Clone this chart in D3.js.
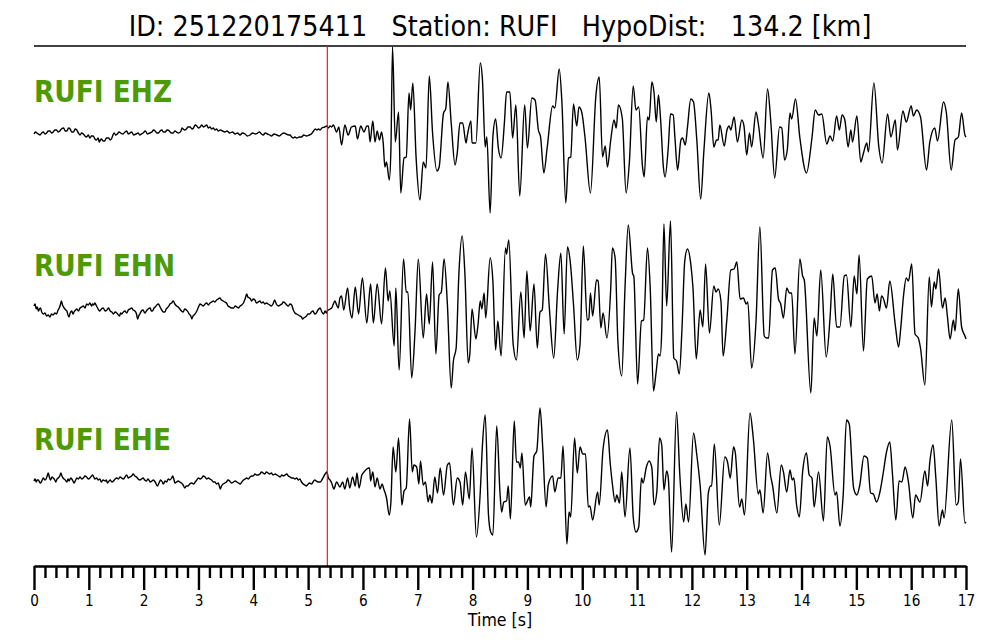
<!DOCTYPE html>
<html>
<head>
<meta charset="utf-8">
<script src="https://cdn.jsdelivr.net/npm/d3@7"></script>
<style>
  body { margin: 0; background: #fff; }
  text { font-family: "DejaVu Sans", sans-serif; white-space: pre; }
</style>
</head>
<body>
<div id="chart"></div>
<script>
// station / event info
var eventId = "251220175411";
var station = "RUFI";
var hypoDist = "134.2";
var channels = ["RUFI EHZ", "RUFI EHN", "RUFI EHE"];
var pickTime = 5.35;
var timeTicks = [0, 1, 2, 3, 4, 5, 6, 7, 8, 9, 10, 11, 12, 13, 14, 15, 16, 17];

// traces: [time s, amplitude]
var ehz = [[0.00,-1],[0.03,1],[0.05,0],[0.08,-1],[0.11,-2],[0.14,0],[0.17,1],[0.20,-1],[0.23,0],[0.26,2],[0.29,2],[0.32,0],[0.35,1],[0.38,3],[0.41,3],[0.44,1],[0.47,2],[0.50,4],[0.54,5],[0.57,2],[0.60,2],[0.63,5],[0.66,4],[0.69,1],[0.72,1],[0.75,4],[0.78,3],[0.81,0],[0.84,-2],[0.87,0],[0.90,-1],[0.93,-3],[0.96,-4],[0.99,-2],[1.02,-5],[1.05,-3],[1.08,-3],[1.11,-6],[1.14,-7],[1.17,-5],[1.19,-9],[1.21,-7],[1.23,-6],[1.26,-8],[1.29,-8],[1.32,-5],[1.36,-5],[1.39,-7],[1.42,-5],[1.44,-2],[1.46,0],[1.49,-2],[1.52,-1],[1.55,1],[1.58,0],[1.62,-1],[1.66,1],[1.69,2],[1.72,-1],[1.75,0],[1.78,1],[1.82,-2],[1.86,-1],[1.90,0],[1.93,-2],[1.96,-1],[1.99,0],[2.03,2],[2.07,-1],[2.11,0],[2.15,1],[2.18,3],[2.21,2],[2.24,0],[2.27,0],[2.30,2],[2.33,3],[2.36,1],[2.39,1],[2.43,3],[2.47,2],[2.50,0],[2.54,0],[2.57,2],[2.60,1],[2.64,0],[2.68,2],[2.70,5],[2.72,4],[2.75,3],[2.78,4],[2.81,6],[2.85,6],[2.88,4],[2.91,5],[2.94,8],[2.97,7],[3.00,5],[3.03,6],[3.06,8],[3.09,6],[3.12,7],[3.15,8],[3.18,5],[3.21,6],[3.24,4],[3.27,5],[3.30,3],[3.33,4],[3.36,2],[3.40,3],[3.44,2],[3.48,1],[3.52,2],[3.57,0],[3.62,1],[3.67,-1],[3.71,0],[3.76,-2],[3.80,0],[3.85,-1],[3.89,-3],[3.94,-2],[3.99,0],[4.04,-1],[4.08,0],[4.11,1],[4.15,-1],[4.18,-2],[4.22,0],[4.26,-1],[4.30,-2],[4.33,-3],[4.38,-1],[4.43,-2],[4.47,-3],[4.52,-1],[4.56,0],[4.60,-1],[4.64,-2],[4.67,-2],[4.70,-4],[4.73,-5],[4.76,-4],[4.79,-5],[4.84,-4],[4.88,-4],[4.92,-2],[4.97,-3],[5.02,-2],[5.06,-1],[5.10,2],[5.13,4],[5.16,3],[5.19,4],[5.22,3],[5.25,5],[5.30,6],[5.34,7],[5.37,5],[5.40,7],[5.43,6],[5.46,8],[5.52,1],[5.56,6],
  [5.61,-12],[5.67,8],[5.73,-2],[5.79,6],[5.86,7],[5.90,-6],[5.96,7],[6.02,1],[6.07,7],[6.10,7],[6.13,-9],[6.18,12],[6.22,-9],[6.26,2],[6.30,-7],[6.34,1],[6.37,-10],[6.40,-34],[6.43,-29],[6.48,-47],[6.51,-17],[6.54,86],[6.59,-9],[6.65,21],[6.69,-60],[6.75,-25],[6.79,-24],[6.84,40],[6.87,23],[6.91,50],[6.97,-25],[7.04,-67],[7.10,-29],[7.15,-35],[7.21,57],[7.27,0],[7.35,-38],[7.39,-34],[7.47,20],[7.51,24],[7.55,51],[7.61,10],[7.68,-32],[7.72,-20],[7.77,10],[7.82,10],[7.88,-10],[7.90,-4],[7.97,12],[7.99,-10],[8.06,-10],[8.14,70],[8.18,53],[8.23,-14],[8.26,-4],[8.32,-80],[8.37,-4],[8.42,14],[8.47,-15],[8.52,-25],[8.58,10],[8.62,41],[8.68,41],[8.73,-5],[8.79,28],[8.86,-63],[8.95,28],[9.00,-15],[9.08,35],[9.14,33],[9.20,3],[9.24,-4],[9.30,-40],[9.36,-15],[9.46,27],[9.50,25],[9.58,64],[9.63,30],[9.70,-70],[9.75,-25],[9.79,-24],[9.84,29],[9.90,7],[9.94,26],[9.99,21],[10.05,-4],[10.15,-60],[10.25,38],[10.31,56],[10.37,-24],[10.42,-13],[10.46,-34],[10.52,-7],[10.58,13],[10.62,5],[10.66,28],[10.73,15],[10.80,-60],[10.86,-29],[10.93,47],[10.98,23],[11.03,26],[11.10,-34],[11.13,-44],[11.19,16],[11.22,13],[11.27,51],
  [11.31,40],[11.35,11],[11.39,38],[11.43,13],[11.48,-34],[11.51,-44],[11.57,-14],[11.61,19],[11.66,18],[11.69,-4],[11.74,-37],[11.80,-7],[11.83,-5],[11.88,-12],[11.92,6],[11.98,34],[12.03,31],[12.09,-7],[12.16,-66],[12.22,-17],[12.31,40],[12.35,23],[12.40,-14],[12.45,-7],[12.48,-7],[12.51,8],[12.59,-13],[12.64,3],[12.68,7],[12.71,3],[12.77,16],[12.83,-9],[12.91,13],[12.95,7],[13.00,-22],[13.05,0],[13.09,-14],[13.17,21],[13.21,10],[13.30,-25],[13.38,44],[13.44,11],[13.51,-45],[13.60,6],[13.64,5],[13.69,-27],[13.74,-17],[13.79,20],[13.82,14],[13.89,34],[13.97,-5],[14.09,-40],[14.19,-5],[14.25,23],[14.31,18],[14.37,19],[14.46,-11],[14.52,-3],[14.57,-8],[14.64,17],[14.69,3],[14.74,18],[14.79,13],[14.85,-14],[14.90,3],[14.93,-9],[15.01,17],[15.08,-29],[15.13,-20],[15.19,-10],[15.22,-19],[15.32,50],[15.41,-14],[15.47,-30],[15.57,19],[15.63,-4],[15.71,13],[15.75,-17],[15.85,22],[15.91,11],[16.00,27],[16.04,17],[16.10,23],[16.17,16],[16.28,-37],[16.34,-9],[16.43,5],[16.48,-8],[16.59,31],[16.64,21],[16.73,-37],[16.80,-7],[16.86,-4],[16.92,20],[16.98,-2],[17.00,-4]];

var ehn = [[0.00,1],[0.02,3],[0.04,-2],[0.06,0],[0.08,-4],[0.10,-2],[0.12,-1],[0.14,-5],[0.17,-7],[0.20,-6],[0.23,-9],[0.26,-8],[0.29,-10],[0.32,-7],[0.35,-8],[0.38,-6],[0.41,-7],[0.44,-3],[0.46,-1],[0.48,2],[0.50,6],[0.52,2],[0.55,-1],[0.58,-3],[0.60,-4],[0.62,-8],[0.64,-10],[0.66,-6],[0.69,-4],[0.71,-7],[0.73,-5],[0.76,-3],[0.78,-2],[0.81,-4],[0.84,-1],[0.87,0],[0.90,1],[0.93,-1],[0.96,3],[0.99,2],[1.02,4],[1.05,1],[1.07,3],[1.09,2],[1.11,4],[1.14,1],[1.16,-1],[1.18,-3],[1.20,-4],[1.23,-2],[1.26,-1],[1.30,-4],[1.33,-3],[1.36,-1],[1.39,-4],[1.42,-5],[1.45,-7],[1.48,-5],[1.51,-6],[1.54,-8],[1.56,-9],[1.58,-6],[1.60,-7],[1.63,-5],[1.66,-4],[1.69,-6],[1.72,-3],[1.75,-2],[1.78,-1],[1.81,-3],[1.84,-4],[1.87,-7],[1.89,-12],[1.91,-9],[1.93,-7],[1.96,-4],[1.99,-3],[2.02,-6],[2.05,-4],[2.08,-2],[2.12,-1],[2.14,-4],[2.16,-4],[2.19,-1],[2.21,0],[2.24,2],[2.27,3],[2.30,0],[2.33,-3],[2.36,-5],[2.39,-5],[2.41,-2],[2.43,-1],[2.46,1],[2.48,3],[2.51,4],[2.54,6],[2.57,3],[2.60,1],[2.63,0],[2.66,-2],[2.69,-4],[2.72,-5],[2.75,-2],[2.78,-3],[2.81,-5],[2.83,-7],[2.86,-9],[2.88,-12],[2.90,-9],[2.92,-8],[2.95,-6],[2.97,-4],[3.00,0],[3.03,3],[3.06,2],[3.09,1],[3.12,3],[3.15,4],[3.18,2],[3.21,4],[3.24,5],[3.27,6],[3.30,5],[3.33,7],[3.36,8],[3.39,9],[3.42,7],[3.45,6],[3.48,5],[3.51,4],[3.54,1],[3.57,0],[3.60,-1],[3.64,-1],[3.67,1],[3.70,0],[3.73,-1],[3.76,1],[3.79,2],[3.82,4],[3.85,8],[3.88,13],[3.90,10],[3.93,9],[3.95,8],[3.97,6],[4.00,8],[4.03,7],[4.06,4],[4.09,5],[4.12,6],[4.15,4],[4.18,5],[4.21,3],[4.24,4],[4.27,3],[4.30,2],[4.33,1],[4.36,3],[4.39,7],[4.42,3],[4.46,1],[4.49,2],[4.52,3],[4.55,5],[4.58,4],[4.61,2],[4.64,1],[4.67,3],[4.70,2],[4.73,-3],[4.76,-6],[4.79,-7],[4.82,-8],[4.85,-9],[4.88,-10],[4.90,-12],[4.92,-11],[4.95,-10],[4.97,-9],[5.00,-7],[5.03,-7],[5.06,-5],[5.09,-4],[5.12,-7],[5.15,-6],[5.18,-3],[5.22,-1],[5.25,-5],[5.28,-7],[5.31,-4],[5.33,-6],[5.35,-4],[5.37,-3],[5.40,-2],[5.43,-1],[5.46,3],[5.49,6],[5.52,2],[5.55,-1],
  [5.58,9],[5.61,11],[5.65,-3],[5.72,19],[5.76,-2],[5.80,-11],[5.86,20],[5.92,-7],[5.99,29],[6.07,-16],[6.14,23],[6.19,-16],[6.26,23],[6.34,-17],[6.41,39],[6.46,6],[6.49,16],[6.57,-39],[6.60,19],[6.66,-63],[6.74,48],[6.79,15],[6.82,15],[6.89,-71],[6.95,-24],[7.01,48],[7.10,-31],[7.16,13],[7.21,-17],[7.27,45],[7.33,-47],[7.39,12],[7.43,15],[7.48,48],[7.54,3],[7.61,-81],[7.65,-54],[7.70,-41],[7.75,33],[7.81,71],[7.86,33],[7.92,-56],[7.95,-47],[7.99,-2],[8.06,-32],[8.10,-17],[8.14,6],[8.17,-2],[8.21,14],[8.24,-11],[8.32,49],[8.37,26],[8.42,-43],[8.46,-14],[8.52,-49],[8.60,59],[8.62,53],[8.66,67],[8.74,-37],[8.80,-53],[8.88,15],[8.94,-31],[8.99,36],[9.05,-24],[9.12,23],[9.18,-41],[9.23,-5],[9.27,-3],[9.33,53],[9.40,-1],[9.48,-51],[9.55,16],[9.61,54],[9.67,-27],[9.73,60],[9.78,46],[9.84,3],[9.91,-53],[9.96,-37],[10.02,61],[10.09,-13],[10.12,-12],[10.15,14],[10.19,-9],[10.26,27],[10.29,26],[10.34,-21],[10.38,-6],[10.45,-31],[10.52,19],[10.55,59],[10.60,49],[10.65,-34],[10.72,-69],[10.78,19],[10.84,82],[10.92,33],[10.94,31],[11.01,-77],[11.08,-14],[11.12,-13],[11.19,59],[11.24,19],
  [11.30,-84],[11.35,-64],[11.39,-47],[11.42,-49],[11.45,-24],[11.49,83],[11.54,1],[11.61,86],[11.67,-51],[11.72,-54],[11.77,-67],[11.82,-21],[11.87,46],[11.92,58],[11.98,43],[12.02,19],[12.08,-52],[12.15,-3],[12.20,-20],[12.25,43],[12.32,-26],[12.40,21],[12.44,15],[12.48,18],[12.53,6],[12.57,-49],[12.64,-11],[12.71,37],[12.77,38],[12.82,45],[12.88,8],[12.94,9],[12.99,3],[13.02,5],[13.09,-61],[13.17,-14],[13.24,80],[13.32,-29],[13.36,-31],[13.40,-31],[13.47,37],[13.52,39],[13.58,8],[13.62,3],[13.67,-11],[13.73,19],[13.78,14],[13.82,14],[13.88,-47],[13.97,48],[14.02,31],[14.05,27],[14.17,-86],[14.23,-11],[14.28,-29],[14.35,37],[14.45,-50],[14.52,-11],[14.57,33],[14.64,-20],[14.70,-20],[14.78,31],[14.82,32],[14.90,-20],[14.96,31],[15.01,13],[15.05,52],[15.13,-44],[15.20,28],[15.28,31],[15.34,4],[15.38,13],[15.42,-4],[15.46,11],[15.49,9],[15.55,-1],[15.61,26],[15.71,-18],[15.77,-40],[15.81,-21],[15.86,11],[15.91,29],[15.95,26],[16.01,43],[16.07,-27],[16.13,-31],[16.17,-41],[16.25,-78],[16.33,30],[16.37,0],[16.42,25],[16.45,18],[16.50,38],[16.57,-1],[16.62,9],[16.66,-9],[16.71,-32],[16.77,-13],[16.80,-24],[16.86,18],[16.92,-20],[16.98,-29],[17.00,-32]];

var ehe = [[0.00,0],[0.02,2],[0.04,-1],[0.06,1],[0.08,1],[0.10,-1],[0.12,-2],[0.15,1],[0.17,3],[0.20,1],[0.22,2],[0.24,5],[0.26,8],[0.28,4],[0.30,1],[0.33,4],[0.35,3],[0.38,1],[0.40,-1],[0.42,2],[0.44,3],[0.47,5],[0.49,8],[0.51,5],[0.53,3],[0.57,1],[0.60,-1],[0.62,2],[0.64,0],[0.67,3],[0.69,2],[0.71,0],[0.73,-2],[0.76,1],[0.78,3],[0.81,2],[0.84,4],[0.87,2],[0.90,3],[0.93,5],[0.96,4],[0.99,2],[1.02,3],[1.05,5],[1.07,6],[1.09,4],[1.11,2],[1.14,3],[1.17,1],[1.20,2],[1.23,-1],[1.26,1],[1.30,0],[1.32,1],[1.34,-2],[1.37,0],[1.39,1],[1.42,-1],[1.45,0],[1.48,2],[1.51,3],[1.54,2],[1.57,4],[1.60,3],[1.63,2],[1.66,4],[1.69,6],[1.72,3],[1.75,4],[1.78,5],[1.81,7],[1.84,5],[1.87,4],[1.90,2],[1.93,1],[1.96,2],[1.99,3],[2.02,1],[2.05,0],[2.08,2],[2.12,-1],[2.15,0],[2.18,1],[2.21,-1],[2.25,-5],[2.28,-2],[2.31,1],[2.34,-1],[2.36,-3],[2.39,0],[2.42,-1],[2.45,2],[2.48,1],[2.51,3],[2.53,5],[2.55,2],[2.57,-2],[2.60,-1],[2.63,0],[2.66,-1],[2.69,-2],[2.72,-4],[2.75,-7],[2.78,-5],[2.81,-5],[2.84,-3],[2.88,-2],[2.91,-3],[2.94,-1],[2.97,1],[3.00,3],[3.03,2],[3.06,3],[3.09,5],[3.12,4],[3.15,2],[3.18,3],[3.21,2],[3.24,1],[3.27,-1],[3.30,-1],[3.33,-3],[3.36,-2],[3.38,-5],[3.40,-8],[3.42,-5],[3.45,-3],[3.48,-2],[3.51,-1],[3.54,1],[3.57,0],[3.60,-2],[3.64,-1],[3.67,0],[3.70,-1],[3.73,-2],[3.76,-3],[3.79,-1],[3.82,1],[3.85,2],[3.88,3],[3.91,2],[3.94,4],[3.97,5],[4.00,5],[4.03,7],[4.06,6],[4.09,6],[4.12,7],[4.15,9],[4.18,8],[4.21,7],[4.24,9],[4.27,8],[4.30,7],[4.33,8],[4.36,6],[4.40,7],[4.43,6],[4.46,5],[4.49,4],[4.52,6],[4.55,5],[4.58,6],[4.61,7],[4.64,5],[4.67,4],[4.70,3],[4.73,3],[4.76,2],[4.79,3],[4.82,1],[4.85,2],[4.88,-1],[4.91,-3],[4.94,-4],[4.97,-5],[5.00,-3],[5.03,-2],[5.06,-3],[5.09,-1],[5.12,1],[5.15,0],[5.18,-1],[5.22,-1],[5.26,2],[5.31,7],[5.34,9],[5.37,3],[5.40,1],[5.43,-2],[5.47,-8],[5.52,-1],
  [5.58,-6],[5.63,-1],[5.67,-8],[5.72,3],[5.76,-7],[5.81,4],[5.86,-5],[5.89,8],[5.93,-7],[5.98,6],[6.02,9],[6.07,12],[6.12,13],[6.14,0],[6.18,9],[6.22,-6],[6.26,3],[6.31,-8],[6.35,-3],[6.38,-8],[6.43,-17],[6.48,-34],[6.51,-21],[6.55,34],[6.60,9],[6.65,43],[6.71,-24],[6.75,-10],[6.79,-7],[6.85,62],[6.90,9],[6.93,16],[6.98,14],[7.02,-3],[7.05,20],[7.10,-4],[7.14,-1],[7.19,-21],[7.22,-14],[7.26,-22],[7.31,4],[7.36,-12],[7.41,13],[7.47,-14],[7.54,16],[7.58,18],[7.65,-24],[7.72,3],[7.77,-1],[7.82,-24],[7.87,9],[7.94,-18],[7.99,33],[8.07,-56],[8.14,-11],[8.18,36],[8.23,66],[8.29,-34],[8.33,-51],[8.37,-54],[8.44,55],[8.50,-12],[8.53,-31],[8.57,-21],[8.62,-20],[8.65,-5],[8.69,-38],[8.76,60],[8.80,19],[8.84,19],[8.87,13],[8.90,28],[8.96,-24],[9.04,-16],[9.06,-26],[9.12,25],[9.17,30],[9.23,73],[9.28,33],[9.34,-26],[9.38,-4],[9.46,5],[9.50,-11],[9.56,3],[9.61,3],[9.65,35],[9.72,-63],[9.76,-31],[9.79,-36],[9.86,43],[9.91,8],[9.96,34],[10.01,27],[10.06,27],[10.11,-26],[10.14,-25],[10.19,-39],[10.28,-11],[10.31,-24],[10.38,32],[10.46,51],[10.51,18],[10.55,-3],[10.60,-21],[10.63,-14],[10.68,-22],[10.72,9],[10.78,-36],[10.87,33],[10.93,-36],[10.98,-51],[11.03,-46],[11.08,3],[11.11,-2],[11.17,14],[11.22,20],[11.27,13],
  [11.31,-24],[11.36,-11],[11.41,43],[11.45,36],[11.49,-9],[11.54,10],[11.57,3],[11.63,-71],[11.72,69],[11.78,6],[11.85,-41],[11.89,-23],[11.94,-41],[12.03,48],[12.09,26],[12.15,-4],[12.24,-74],[12.30,-12],[12.34,-5],[12.36,-5],[12.41,37],[12.50,-44],[12.60,24],[12.65,19],[12.70,3],[12.76,34],[12.79,29],[12.87,-26],[12.91,-18],[12.96,-34],[13.06,68],[13.12,43],[13.21,-13],[13.24,-9],[13.30,-32],[13.38,28],[13.44,4],[13.47,-4],[13.55,-32],[13.63,16],[13.67,9],[13.73,-11],[13.79,11],[13.83,1],[13.86,3],[13.91,-24],[13.96,-36],[14.02,9],[14.09,28],[14.14,6],[14.19,3],[14.23,-26],[14.31,9],[14.40,-40],[14.47,44],[14.52,35],[14.61,-14],[14.64,-11],[14.70,-45],[14.76,-14],[14.82,61],[14.87,57],[14.95,-7],[15.01,-14],[15.06,-5],[15.14,25],[15.20,23],[15.26,-12],[15.31,-13],[15.37,-21],[15.43,-11],[15.49,8],[15.55,29],[15.61,39],[15.66,6],[15.72,-39],[15.78,0],[15.83,-1],[15.89,14],[15.95,-1],[16.03,-37],[16.08,-14],[16.16,-21],[16.25,10],[16.30,-5],[16.34,19],[16.40,36],[16.45,3],[16.51,-45],[16.57,-29],[16.60,-37],[16.74,61],[16.82,-24],[16.86,-21],[16.90,22],[16.98,-42],[17.00,-41]];

var traces = [ehz, ehn, ehe];

function init() {
    var w = 1000;
    var h = 640;
    var squeeze = 0.88; // text in the reference is a bit narrow

    var svg = d3.select("#chart")
        .append("svg")
        .attr("width", w)
        .attr("height", h);

    var x = d3.scaleLinear().domain([0, 17]).range([34, 966]);
    //one row per channel
    var row = d3.scalePoint().domain(channels).range([133, 481]);
    var amp = d3.scaleLinear().domain([-100, 100]).range([100, -100]);

    var line = d3.line()
        .x(function (d) { return x(d[0]); })
        .y(function (d) { return amp(d[1]); })
        .curve(d3.curveMonotoneX);

    //title
    svg.append("text")
        .attr("transform", "translate(500,36) scale(" + squeeze + ",1)")
        .attr("text-anchor", "middle")
        .attr("font-size", 29)
        .attr("fill", "#000")
        .text("ID: " + eventId + "   Station: " + station + "   HypoDist:   " + hypoDist + " [km]");

    svg.append("line")
        .attr("x1", x(0)).attr("x2", x(17))
        .attr("y1", 46).attr("y2", 46)
        .attr("stroke", "#000")
        .attr("stroke-width", 1.5);

    //traces
    var rows = svg.selectAll("g.trace")
        .data(channels)
        .enter()
        .append("g")
        .attr("class", "trace")
        .attr("transform", function (d) { return "translate(0," + row(d) + ")"; });

    rows.append("path")
        .attr("d", function (d, i) { return line(traces[i]); })
        .attr("fill", "none")
        .attr("stroke", "#000")
        .attr("stroke-width", 1.4)
        .attr("stroke-linejoin", "round");

    rows.append("text")
        .attr("transform", "translate(34,-31) scale(" + squeeze + ",1)")
        .attr("font-size", 30)
        .attr("font-weight", "bold")
        .attr("fill", "#4e9a06")
        .text(function (d) { return d; });

    //pick line
    svg.append("line")
        .attr("x1", x(pickTime)).attr("x2", x(pickTime))
        .attr("y1", 46).attr("y2", 566)
        .attr("stroke", "#ff0000")
        .attr("stroke-width", 1.1);

    //time axis
    var minorTicks = [];
    timeTicks.forEach(function (t) {
        if (t < 17) {
            [0.2, 0.4, 0.6, 0.8].forEach(function (f) { minorTicks.push(t + f); });
        }
    });

    var minorAxis = d3.axisBottom(x)
        .tickValues(minorTicks)
        .tickSize(12)
        .tickSizeOuter(0)
        .tickFormat("");

    var majorAxis = d3.axisBottom(x)
        .tickValues(timeTicks)
        .tickSize(24)
        .tickSizeOuter(0)
        .tickPadding(5)
        .tickFormat(d3.format("d"));

    var gMinor = svg.append("g").attr("transform", "translate(0,566)").call(minorAxis);
    var gMajor = svg.append("g").attr("transform", "translate(0,566)").call(majorAxis);

    [gMinor, gMajor].forEach(function (g) {
        g.select(".domain").attr("stroke", "#000").attr("stroke-width", 2);
        g.selectAll(".tick line").attr("stroke", "#000").attr("stroke-width", 2.4);
    });

    gMajor.selectAll(".tick text")
        .attr("font-family", "DejaVu Sans")
        .attr("font-size", 15.5)
        .attr("fill", "#000")
        .attr("transform", "scale(" + squeeze + ",1)");

    svg.append("text")
        .attr("transform", "translate(500,626) scale(" + squeeze + ",1)")
        .attr("text-anchor", "middle")
        .attr("font-size", 18)
        .attr("fill", "#000")
        .text("Time [s]");
}
window.onload = init;
</script>
</body>
</html>
